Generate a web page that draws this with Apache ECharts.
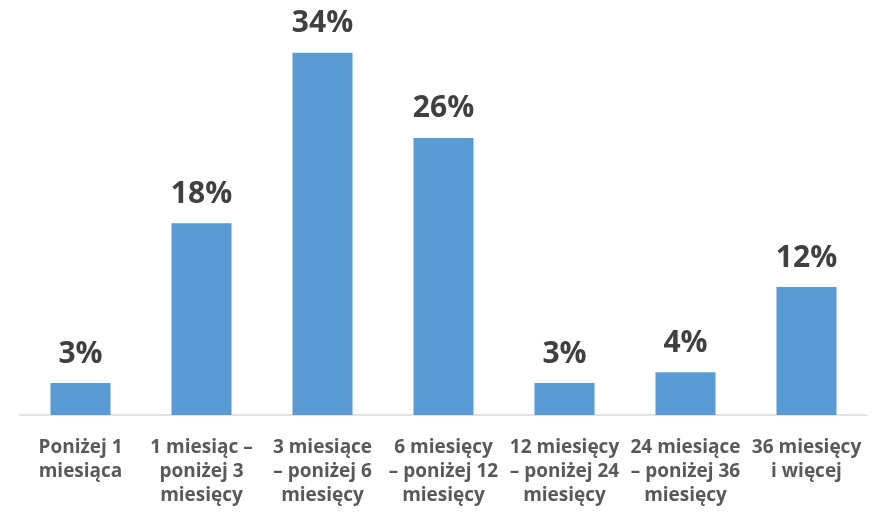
<!DOCTYPE html>
<html><head><meta charset="utf-8">
<script src="https://cdn.jsdelivr.net/npm/echarts@6/dist/echarts.min.js"></script>
<style>html,body{margin:0;padding:0;background:#fff}#c{width:879px;height:519px}</style>
</head><body><div id="c"></div>
<script>
const categories = [
  "Poniżej 1\nmiesiąca",
  "1 miesiąc –\nponiżej 3\nmiesięcy",
  "3 miesiące\n– poniżej 6\nmiesięcy",
  "6 miesięcy\n– poniżej 12\nmiesięcy",
  "12 miesięcy\n– poniżej 24\nmiesięcy",
  "24 miesiące\n– poniżej 36\nmiesięcy",
  "36 miesięcy\ni więcej"
];
const values = [3, 18, 34, 26, 3, 4, 12];

const chart = echarts.init(document.getElementById('c'));
chart.setOption({
  animation: false,
  grid: {left: 20, right: 12, top: 42, bottom: 104, containLabel: false},
  xAxis: {
    type: 'category', data: categories,
    axisLine: {lineStyle: {color: '#d9d9d9', width: 1.5}},
    axisTick: {show: false},
    axisLabel: {interval: 0, color: '#595959', fontFamily: 'Open Sans', fontWeight: 'bold', fontSize: 19, lineHeight: 24, margin: 21}
  },
  yAxis: {type: 'value', min: 0, max: 35, show: false, splitLine: {show: false}},
  series: [{
    type: 'bar', data: values, barWidth: 60,
    itemStyle: {color: '#5b9bd5'},
    label: {show: true, position: 'top', distance: 14, formatter: '{c}%', color: '#404040', fontFamily: 'Open Sans', fontWeight: 'bold', fontSize: 30}
  }]
});
</script></body></html>
